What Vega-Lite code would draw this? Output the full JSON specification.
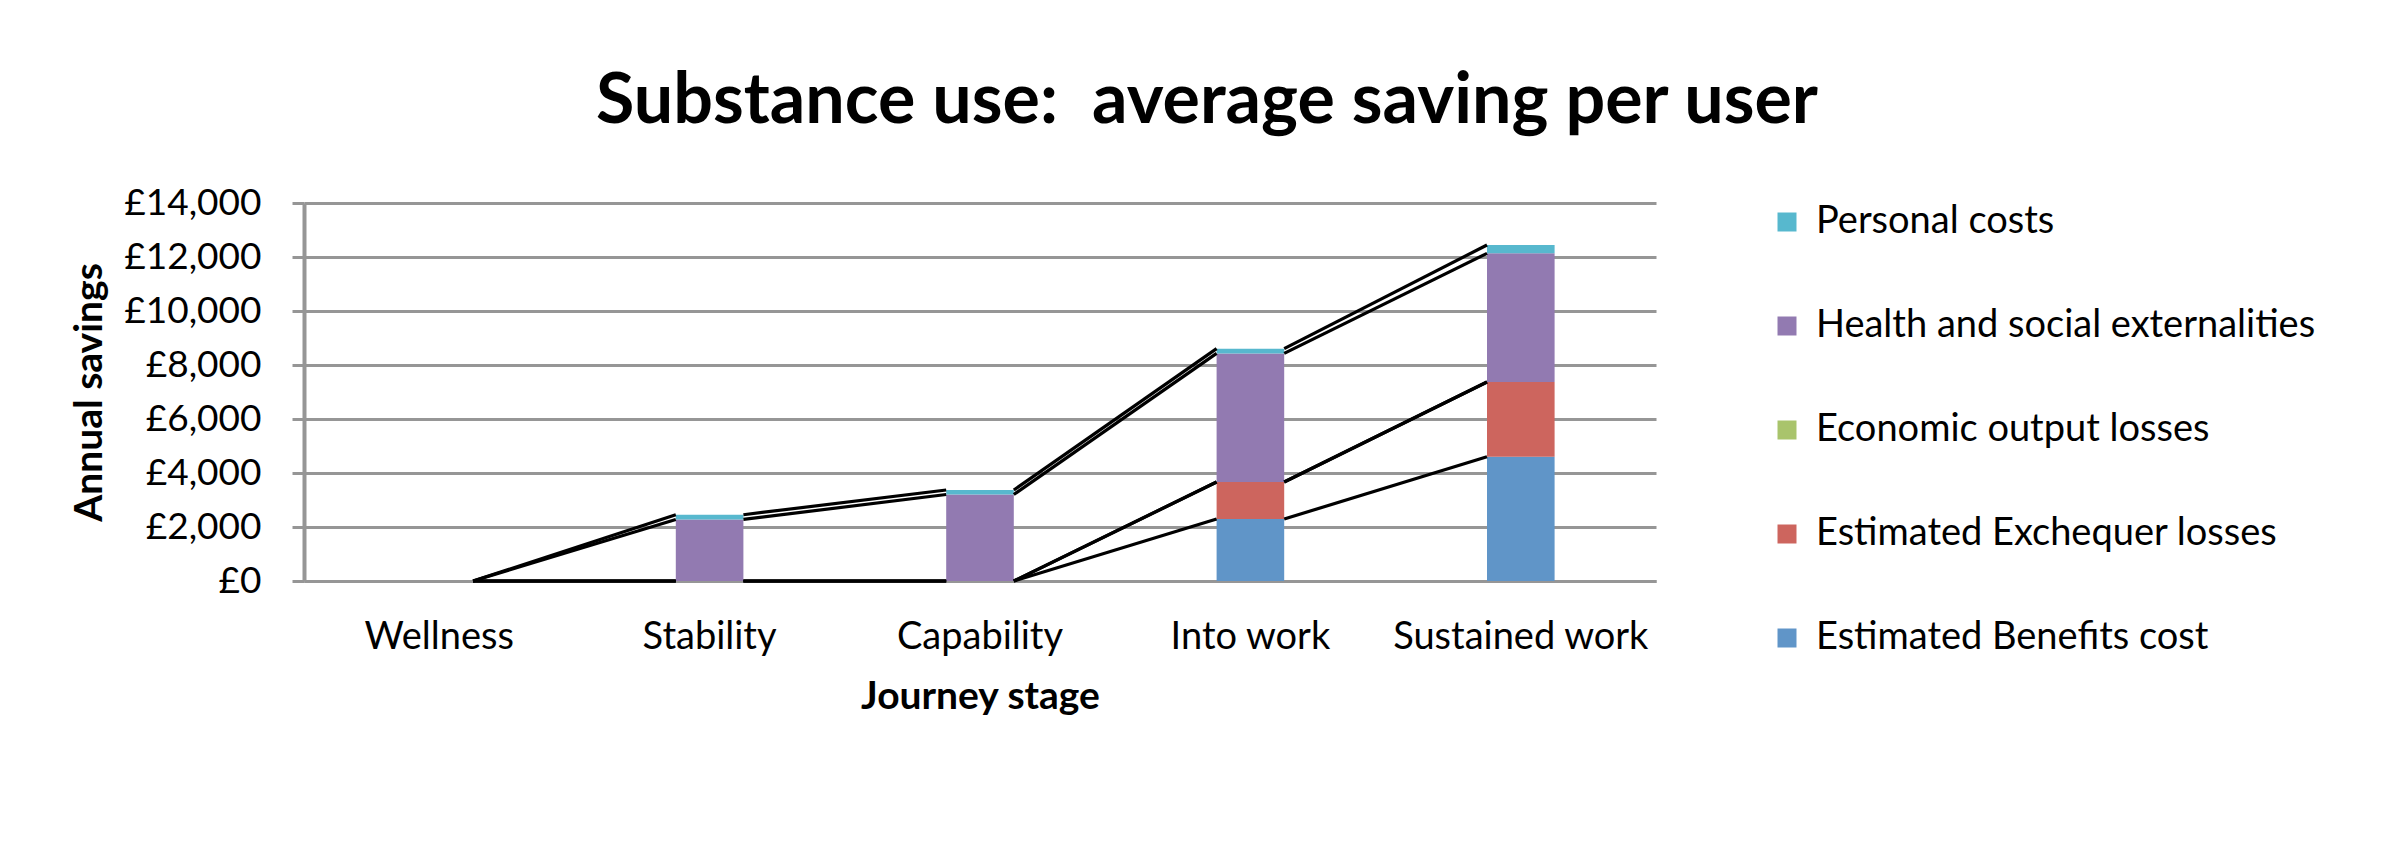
{
  "$schema": "https://vega.github.io/schema/vega-lite/v6.json",
  "width": 1352,
  "height": 378,
  "padding": {"left": 70, "top": 67, "right": 10, "bottom": 10},
  "background": "white",
  "title": {
    "text": "Substance use: \u00a0average saving per user",
    "font": "Lato",
    "fontSize": 70,
    "fontWeight": "bold",
    "color": "black",
    "anchor": "middle",
    "frame": "group",
    "dx": 227,
    "offset": 46
  },
  "datasets": {
    "costs": [
      {"stage": "Wellness", "component": "Estimated Benefits cost", "value": 0},
      {"stage": "Wellness", "component": "Estimated Exchequer losses", "value": 0},
      {"stage": "Wellness", "component": "Economic output losses", "value": 0},
      {"stage": "Wellness", "component": "Health and social externalities", "value": 0},
      {"stage": "Wellness", "component": "Personal costs", "value": 0},
      {"stage": "Stability", "component": "Estimated Benefits cost", "value": 0},
      {"stage": "Stability", "component": "Estimated Exchequer losses", "value": 0},
      {"stage": "Stability", "component": "Economic output losses", "value": 0},
      {"stage": "Stability", "component": "Health and social externalities", "value": 2280},
      {"stage": "Stability", "component": "Personal costs", "value": 175},
      {"stage": "Capability", "component": "Estimated Benefits cost", "value": 0},
      {"stage": "Capability", "component": "Estimated Exchequer losses", "value": 0},
      {"stage": "Capability", "component": "Economic output losses", "value": 0},
      {"stage": "Capability", "component": "Health and social externalities", "value": 3205},
      {"stage": "Capability", "component": "Personal costs", "value": 165},
      {"stage": "Into work", "component": "Estimated Benefits cost", "value": 2295},
      {"stage": "Into work", "component": "Estimated Exchequer losses", "value": 1370},
      {"stage": "Into work", "component": "Economic output losses", "value": 0},
      {"stage": "Into work", "component": "Health and social externalities", "value": 4765},
      {"stage": "Into work", "component": "Personal costs", "value": 175},
      {"stage": "Sustained work", "component": "Estimated Benefits cost", "value": 4605},
      {"stage": "Sustained work", "component": "Estimated Exchequer losses", "value": 2765},
      {"stage": "Sustained work", "component": "Economic output losses", "value": 0},
      {"stage": "Sustained work", "component": "Health and social externalities", "value": 4765},
      {"stage": "Sustained work", "component": "Personal costs", "value": 310}
    ]
  },
  "data": {"name": "costs"},
  "transform": [
    {"calculate": "indexof(['Estimated Benefits cost','Estimated Exchequer losses','Economic output losses','Health and social externalities','Personal costs'], datum.component)", "as": "rank"},
    {"calculate": "indexof(['Wellness','Stability','Capability','Into work','Sustained work'], datum.stage)", "as": "stageIdx"},
    {"stack": "value", "groupby": ["stage"], "sort": [{"field": "rank", "order": "ascending"}], "as": ["lo", "hi"]}
  ],
  "layer": [
    {
      "mark": {"type": "bar"},
      "encoding": {
        "x": {
          "field": "stage",
          "type": "nominal",
          "scale": {"domain": ["Wellness", "Stability", "Capability", "Into work", "Sustained work"], "paddingInner": 0.75, "paddingOuter": 0.375},
          "axis": {
            "title": "Journey stage",
            "labelAngle": 0,
            "labelFont": "Lato",
            "labelFontSize": 38,
            "labelColor": "black",
            "labelPadding": 37,
            "labelLimit": 0,
            "ticks": false,
            "tickSize": 0,
            "domain": true,
            "domainColor": "#969696",
            "domainWidth": 3,
            "titleFont": "Lato",
            "titleFontSize": 39,
            "titleFontWeight": "bold",
            "titleColor": "black",
            "titlePadding": 21
          }
        },
        "y": {
          "field": "lo",
          "type": "quantitative",
          "scale": {"domain": [0, 14000], "nice": false},
          "axis": {
            "title": "Annual savings",
            "values": [0, 2000, 4000, 6000, 8000, 10000, 12000, 14000],
            "labelExpr": "'£' + format(datum.value, ',')",
            "labelFont": "Lato",
            "labelFontSize": 37,
            "labelColor": "black",
            "labelPadding": 31,
            "tickSize": 12,
            "tickWidth": 3,
            "tickColor": "#969696",
            "domainColor": "#969696",
            "domainWidth": 4,
            "grid": true,
            "gridColor": "#969696",
            "gridWidth": 3,
            "titleFont": "Lato",
            "titleFontSize": 39,
            "titleFontWeight": "bold",
            "titleColor": "black",
            "titlePadding": 14
          }
        },
        "y2": {"field": "hi"},
        "color": {
          "field": "component",
          "type": "nominal",
          "scale": {
            "domain": ["Personal costs", "Health and social externalities", "Economic output losses", "Estimated Exchequer losses", "Estimated Benefits cost"],
            "range": ["#57B8CE", "#927AB1", "#A9C46C", "#CD655E", "#6095C8"]
          },
          "legend": {
            "title": null,
            "orient": "right",
            "offset": 112,
            "padding": 0,
            "symbolType": "square",
            "symbolSize": 361,
            "symbolStrokeWidth": 0,
            "symbolOpacity": 1,
            "labelFont": "Lato",
            "labelFontSize": 38,
            "labelColor": "black",
            "labelOffset": 10,
            "labelLimit": 1000,
            "rowPadding": 66
          }
        }
      }
    },
    {
      "transform": [
        {"window": [{"op": "lead", "field": "hi", "as": "nextHi"}, {"op": "lead", "field": "stage", "as": "nextStage"}], "groupby": ["component"], "sort": [{"field": "stageIdx", "order": "ascending"}]},
        {"filter": "datum.nextStage != null"}
      ],
      "mark": {"type": "rule", "color": "black", "strokeWidth": 3.2},
      "encoding": {
        "x": {"field": "stage", "type": "nominal", "bandPosition": 1},
        "x2": {"field": "nextStage", "bandPosition": 0},
        "y": {"field": "hi", "type": "quantitative"},
        "y2": {"field": "nextHi"}
      }
    }
  ],
  "config": {"view": {"stroke": null}}
}
